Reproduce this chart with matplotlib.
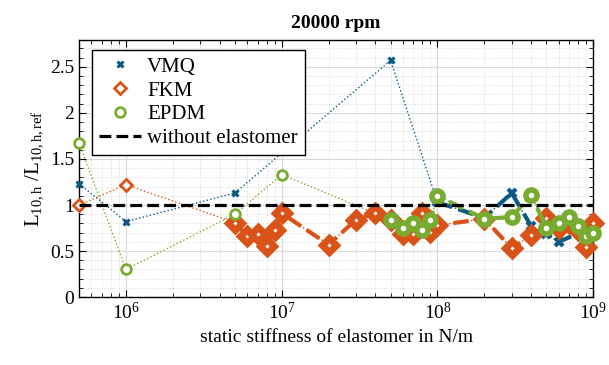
import numpy as np
import matplotlib.pyplot as plt

plt.rcParams['font.family'] = ['Liberation Serif', 'DejaVu Serif']
plt.rcParams['mathtext.fontset'] = 'custom'
plt.rcParams['mathtext.rm'] = 'Liberation Serif'
plt.rcParams['mathtext.it'] = 'Liberation Serif:italic'

# sparse measurements (thin dotted)
vmq_x = [5e5, 1e6, 5e6, 5e7]
vmq_y = [1.23, 0.82, 1.13, 2.57]
fkm_x = [5e5, 1e6]
fkm_y = [1.00, 1.22]
epdm_x = [5e5, 1e6, 5e6, 1e7]
epdm_y = [1.67, 0.30, 0.90, 1.33]

# dense measurements (thick dashed)
vmq_dx = [1e8, 2e8, 3e8, 4e8, 5e8, 6e8, 9e8, 1e9]
vmq_dy = [1.03, 0.86, 1.13, 0.77, 0.69, 0.60, 0.73, 0.70]
fkm_dx = [5e6, 6e6, 7e6, 8e6, 9e6, 1e7, 2e7, 3e7, 4e7, 5e7, 6e7, 7e7, 8e7, 9e7,
          1e8, 2e8, 3e8, 4e8, 5e8, 6e8, 7e8, 8e8, 9e8, 1e9]
fkm_dy = [0.81, 0.66, 0.68, 0.55, 0.73, 0.91, 0.57, 0.84, 0.91, 0.84, 0.68, 0.68, 0.91, 0.71,
          0.78, 0.85, 0.53, 0.67, 0.86, 0.75, 0.80, 0.73, 0.54, 0.80]
epdm_dx = [5e7, 6e7, 7e7, 8e7, 9e7, 1e8, 2e8, 3e8, 4e8, 5e8, 6e8, 7e8, 8e8, 9e8, 1e9]
epdm_dy = [0.84, 0.75, 0.80, 0.73, 0.84, 1.10, 0.85, 0.87, 1.11, 0.75, 0.81, 0.87, 0.77, 0.66, 0.70]

blue = '#0b5a84'
orange = '#d95319'
green = '#77ac30'

fig = plt.figure(figsize=(6.09, 3.65), dpi=100)
ax = fig.add_axes([0.130, 0.186, 0.844, 0.704])

series = [
    ('VMQ', vmq_x, vmq_y, vmq_dx, vmq_dy, blue, 'x'),
    ('FKM', fkm_x, fkm_y, fkm_dx, fkm_dy, orange, 'D'),
    ('EPDM', epdm_x, epdm_y, epdm_dx, epdm_dy, green, 'o'),
]
handles = []
for name, sx, sy, dx, dy, col, mk in series:
    allx = list(sx) + list(dx)
    ally = list(sy) + list(dy)
    order = np.argsort(allx)
    ax.plot(np.array(allx)[order], np.array(ally)[order], ':', color=col, lw=1.0, zorder=2)
    if mk == 'x':
        h, = ax.plot(sx, sy, linestyle='none', marker='x', ms=5, mew=2.2, color=col,
                     zorder=4, clip_on=False)
        ax.plot(dx, dy, '--', marker='x', ms=6, mew=3, lw=3, color=col, zorder=3,
                clip_on=False)
    else:
        ms_s = 6 if mk == 'D' else 7
        ms_d = 7.5 if mk == 'D' else 8
        mew_d = 5 if mk == 'D' else 4
        h, = ax.plot(sx, sy, linestyle='none', marker=mk, ms=ms_s, mew=2,
                     mfc='white', mec=col, color=col, zorder=4, clip_on=False)
        ax.plot(dx, dy, '--', marker=mk, ms=ms_d, mew=mew_d, lw=3, mfc='white', mec=col,
                color=col, zorder=3, clip_on=False)
    handles.append((h, name))

ref, = ax.plot([5e5, 1e9], [1, 1], '--', color='black', lw=2.3, zorder=5)
handles.append((ref, 'without elastomer'))

ax.set_xscale('log')
ax.set_xlim(5e5, 1e9)
ax.set_ylim(0, 2.79)
ax.set_yticks([0, 0.5, 1, 1.5, 2, 2.5])
ax.set_yticklabels(['0', '0.5', '1', '1.5', '2', '2.5'])
ax.grid(True, which='major', color='#d9d9d9', lw=0.8)
ax.grid(True, which='minor', color='#d0d0d0', lw=0.6, linestyle=':')
ax.yaxis.set_minor_locator(plt.MultipleLocator(0.1))
ax.tick_params(which='both', direction='in', top=True, right=True, labelsize=14)
ax.tick_params(which='minor', length=3)
ax.tick_params(which='major', length=5)
for s in ax.spines.values():
    s.set_linewidth(1.0)

ax.set_title('20000 rpm', fontsize=14, fontweight='bold', pad=9)
ax.set_xlabel('static stiffness of elastomer in N/m', fontsize=14)
ax.set_ylabel(r'L$_{\mathrm{10,h}}$ /L$_{\mathrm{10,h,ref}}$', fontsize=15)

leg = ax.legend([h for h, _ in handles], [n for _, n in handles], loc='upper left',
                bbox_to_anchor=(0.025, 0.962), borderaxespad=0, fontsize=15, fancybox=False,
                edgecolor='black', framealpha=1, handlelength=2.0,
                borderpad=0.35, labelspacing=0.2, handletextpad=0.3)
leg.get_frame().set_linewidth(1.0)
leg.set_zorder(6)

fig.savefig('out.png', dpi=100)
